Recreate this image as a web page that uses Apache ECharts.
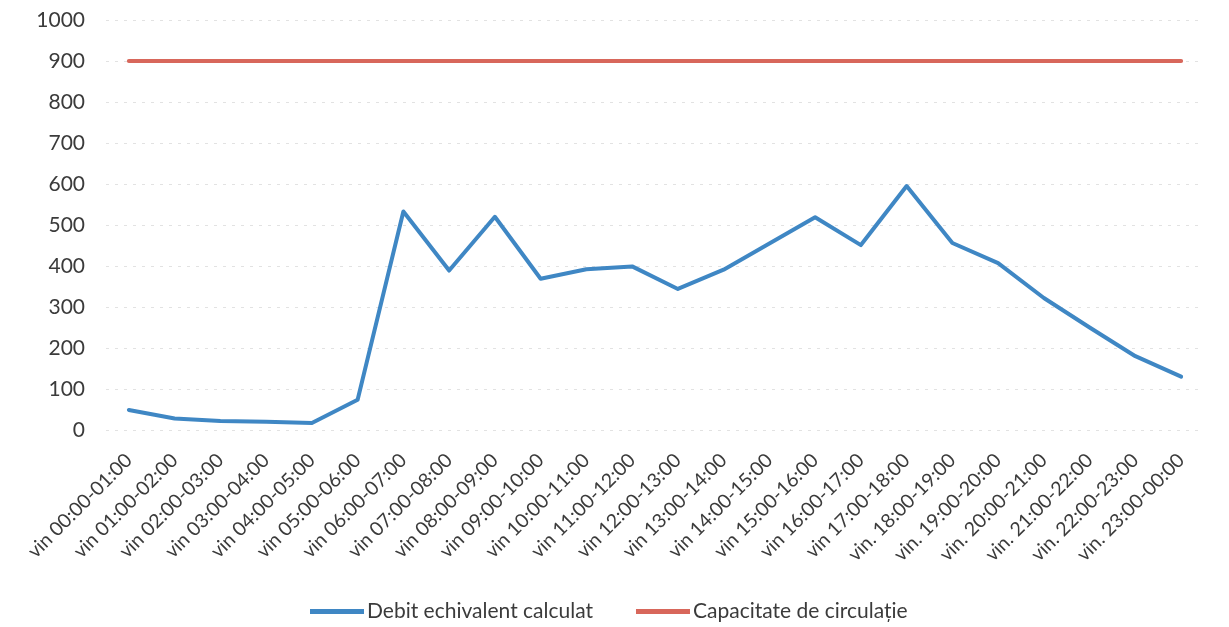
<!DOCTYPE html>
<html>
<head>
<meta charset="utf-8">
<title>Debit echivalent calculat vs capacitate de circulație</title>
<script src="https://cdn.jsdelivr.net/npm/echarts@6/dist/echarts.min.js"></script>
<style>
  html, body { margin: 0; padding: 0; background: #ffffff; }
  #chart { width: 1229px; height: 627px; }
</style>
</head>
<body>
<div id="chart"></div>
<script>
// Hourly intervals (Friday)
const categories = [
  'vin 00:00-01:00', 'vin 01:00-02:00', 'vin 02:00-03:00', 'vin 03:00-04:00',
  'vin 04:00-05:00', 'vin 05:00-06:00', 'vin 06:00-07:00', 'vin 07:00-08:00',
  'vin 08:00-09:00', 'vin 09:00-10:00', 'vin 10:00-11:00', 'vin 11:00-12:00',
  'vin 12:00-13:00', 'vin 13:00-14:00', 'vin 14:00-15:00', 'vin 15:00-16:00',
  'vin 16:00-17:00', 'vin 17:00-18:00', 'vin. 18:00-19:00', 'vin. 19:00-20:00',
  'vin. 20:00-21:00', 'vin. 21:00-22:00', 'vin. 22:00-23:00', 'vin. 23:00-00:00'
];

// Equivalent computed flow per hour
const debitEchivalent = [
  49, 28, 22, 20, 17, 74, 533, 389, 520, 369, 392, 399,
  344, 391, 455, 519, 451, 595, 456, 407, 322, 250, 180, 130
];

// Traffic capacity per hour
const capacitate = [
  900, 900, 900, 900, 900, 900, 900, 900, 900, 900, 900, 900,
  900, 900, 900, 900, 900, 900, 900, 900, 900, 900, 900, 900
];

const seriesNames = ['Debit echivalent calculat', 'Capacitate de circulație'];

const textColor = '#3b3b3b';
const fontFamily = 'Lato, "Open Sans", sans-serif';

const chart = echarts.init(document.getElementById('chart'), null, { renderer: 'canvas' });

chart.setOption({
  animation: false,
  backgroundColor: '#ffffff',
  textStyle: { fontFamily: fontFamily, color: textColor },
  grid: { left: 106, right: 25, top: 20, bottom: 197, containLabel: false },
  legend: {
    bottom: 0,
    left: 305,
    icon: 'rect',
    itemWidth: 54,
    itemHeight: 5,
    itemGap: 43,
    textStyle: { fontSize: 21, color: textColor, fontFamily: fontFamily, padding: [0, 0, 0, -2] },
    data: seriesNames
  },
  xAxis: {
    type: 'category',
    data: categories,
    boundaryGap: true,
    axisLine: { show: false },
    axisTick: { show: false },
    axisLabel: {
      rotate: 45,
      interval: 0,
      margin: 27,
      fontSize: 19.5,
      color: textColor,
      fontFamily: fontFamily
    },
    splitLine: { show: false }
  },
  yAxis: {
    type: 'value',
    min: 0,
    max: 1000,
    interval: 100,
    axisLine: { show: false },
    axisTick: { show: false },
    axisLabel: {
      fontSize: 21,
      color: textColor,
      margin: 21,
      fontFamily: fontFamily,
      formatter: (v) => String(v)
    },
    splitLine: { show: true, lineStyle: { color: '#e2e2e2', type: [3, 6], width: 1 } }
  },
  series: [
    {
      name: seriesNames[0],
      type: 'line',
      data: debitEchivalent,
      symbol: 'none',
      lineStyle: { color: '#3f87c4', width: 4, join: 'round', cap: 'round' },
      itemStyle: { color: '#3f87c4' }
    },
    {
      name: seriesNames[1],
      type: 'line',
      data: capacitate,
      symbol: 'none',
      lineStyle: { color: '#d8675b', width: 4, cap: 'round' },
      itemStyle: { color: '#d8675b' }
    }
  ]
});
</script>
</body>
</html>
